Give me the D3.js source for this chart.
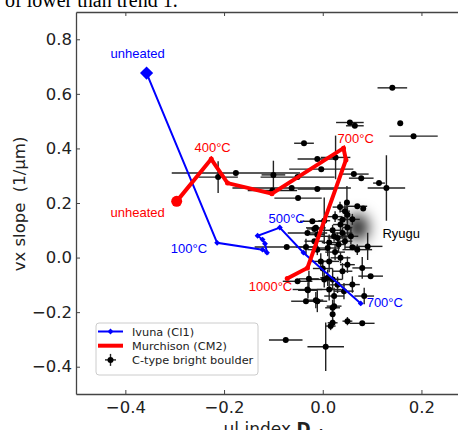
<!DOCTYPE html>
<html>
<head>
<meta charset="utf-8">
<script src="https://cdn.jsdelivr.net/npm/d3@7"></script>
<style>
  body { margin: 0; background: white; }
  svg { display: block; }
  .tick text { font-family: "DejaVu Sans", sans-serif; font-size: 16.5px; fill: #222; }
  .note { font-family: "Liberation Sans", Arial, sans-serif; font-size: 13px; }
  .legend-text { font-family: "DejaVu Sans", sans-serif; font-size: 11.3px; fill: #222; }
</style>
</head>
<body>
<svg id="chart" width="458" height="430"></svg>
<script>
// ---------- data

const IVUNA_X = [-0.357, -0.214, -0.122, -0.113, -0.117, -0.122, -0.132, -0.087, -0.039, 0.077];
const IVUNA_Y = [0.676, 0.054, 0.029, 0.018, 0.051, 0.066, 0.080, 0.110, 0.018, -0.168];

const MURCHISON_X = [-0.296, -0.226, -0.193, -0.103, 0.042, 0.047, -0.031, -0.072];
const MURCHISON_Y = [0.206, 0.361, 0.273, 0.234, 0.401, 0.358, -0.038, -0.077];

// C-type bright boulders: position and half-width of error bars
const BOULDER_X = [
  0.141, 0.157, 0.184, 0.055, 0.065, -0.038, -0.011, 0.026, -0.003, 0.063,
  0.078, 0.114, 0.129, -0.051, -0.063, -0.011, -0.102, -0.050, -0.176, -0.212,
  -0.100, 0.049, 0.070, 0.082, 0.003, 0.040, 0.050, 0.036, 0.050, 0.040,
  0.057, 0.030, -0.014, -0.031, -0.011, 0.023, -0.017, -0.021, -0.017, -0.073,
  -0.034, 0.070, 0.091, 0.010, -0.011, 0.060, 0.013, 0.032, -0.004, 0.013,
  0.036, 0.050, 0.080, 0.097, 0.003, 0.020, 0.010, 0.013, -0.031, -0.028,
  -0.051, 0.043, 0.060, -0.011, -0.034, -0.014, 0.023, 0.084, 0.020, 0.023,
  0.020, 0.050, 0.080, 0.020, 0.016, 0.006, -0.075, -0.030,
  0.035, 0.045, 0.025, 0.060, 0.020, 0.045, 0.025, 0.040, 0.030, 0.000
];
const BOULDER_Y = [
  0.622, 0.492, 0.445, 0.495, 0.483, 0.419, 0.361, 0.367, 0.324, 0.306,
  0.291, 0.273, 0.255, 0.295, 0.255, 0.251, 0.246, 0.218, 0.310, 0.295,
  0.303, 0.202, 0.188, 0.180, 0.135, 0.139, 0.157, 0.121, 0.110, 0.090,
  0.078, 0.072, 0.109, 0.090, 0.084, 0.078, 0.105, 0.133, 0.060, 0.039,
  0.039, 0.029, 0.041, 0.035, 0.029, 0.038, 0.055, 0.048, -0.014, -0.014,
  -0.001, -0.026, -0.038, -0.068, -0.080, -0.080, -0.074, -0.117, -0.117, -0.078,
  -0.087, -0.123, -0.099, -0.160, -0.160, -0.156, -0.141, -0.141, -0.184, -0.178,
  -0.208, -0.233, -0.241, -0.239, -0.251, -0.327, -0.302, -0.120,
  0.185, 0.170, 0.150, 0.140, 0.100, 0.060, 0.020, -0.050, -0.100, -0.040
];
const BOULDER_XERR = [
  0.030, 0, 0.049, 0.028, 0.018, 0.020, 0.040, 0.030, 0.065, 0.030,
  0.025, 0.012, 0.038, 0.075, 0.120, 0.040, 0.050, 0.048, 0.130, 0.040,
  0.024, 0, 0.020, 0, 0.012, 0.010, 0, 0.015, 0.010, 0.020,
  0.015, 0.020, 0.020, 0.040, 0.015, 0.030, 0.015, 0.025, 0.020, 0.065,
  0.020, 0.030, 0.030, 0.025, 0.020, 0.015, 0.015, 0.015, 0.025, 0.020,
  0.020, 0.015, 0.020, 0.025, 0.030, 0.020, 0.015, 0.025, 0.030, 0.020,
  0.030, 0.020, 0.015, 0.020, 0.030, 0.015, 0.020, 0.020, 0.015, 0.015,
  0, 0.010, 0.025, 0.010, 0.010, 0.037, 0.034, 0.020,
  0.015, 0.010, 0.015, 0.015, 0.020, 0.015, 0.020, 0.020, 0.015, 0.020
];
const BOULDER_YERR = [
  0, 0, 0, 0, 0, 0, 0, 0.080, 0, 0,
  0, 0, 0.120, 0, 0, 0, 0, 0, 0, 0.058,
  0.052, 0.060, 0, 0, 0.085, 0, 0.030, 0.020, 0.030, 0.020,
  0.030, 0.020, 0, 0, 0.020, 0.020, 0, 0, 0, 0,
  0.030, 0.020, 0.050, 0.030, 0.020, 0, 0.030, 0.030, 0.030, 0.040,
  0.020, 0.030, 0.040, 0, 0.030, 0.040, 0.030, 0.040, 0, 0.030,
  0, 0.030, 0.030, 0.040, 0, 0.030, 0.030, 0.030, 0.030, 0,
  0.020, 0.015, 0, 0.015, 0.015, 0.089, 0, 0.030,
  0.020, 0.030, 0.020, 0.020, 0.020, 0.030, 0.030, 0.030, 0.030, 0.030
];

const RYUGU = [0.071, 0.110];

const X_TICKS = [-0.4, -0.2, 0.0, 0.2];
const Y_TICKS = [-0.4, -0.2, 0.0, 0.2, 0.4, 0.6, 0.8];

// annotations: [x, y, text, colour]
const NOTES = [
  [-0.43, 0.730, "unheated", "blue"],
  [-0.43, 0.150, "unheated", "red"],
  [-0.260, 0.387, "400°C", "red"],
  [0.030, 0.420, "700°C", "red"],
  [-0.308, 0.018, "100°C", "blue"],
  [-0.110, 0.128, "500°C", "blue"],
  [-0.150, -0.124, "1000°C", "red"],
  [0.089, -0.182, "700°C", "blue"],
  [0.121, 0.073, "Ryugu", "black"]
];

// ----------

const BLUE = "#0000ff";
const RED = "#ff0000";
const AXIS_COLOR = "#444";

const svg = d3.select("#chart");

const x = d3.scaleLinear().domain([-0.5, 0.3]).range([76, 470.8]);
const y = d3.scaleLinear().domain([-0.5, 0.9]).range([394, 12]);

// text from the page above the figure, cut off at the top
svg.append("text")
  .attr("x", 5)
  .attr("y", 7)
  .style("font-family", "'Liberation Serif', serif")
  .style("font-size", "20px")
  .text("of lower than trend 1.");

// Ryugu blurred blob
const defs = svg.append("defs");
defs.append("filter")
  .attr("id", "blur")
  .attr("x", "-200%").attr("y", "-200%")
  .attr("width", "500%").attr("height", "500%")
  .append("feGaussianBlur")
  .attr("stdDeviation", 7.5);

svg.append("ellipse")
  .attr("cx", x(RYUGU[0]))
  .attr("cy", y(RYUGU[1]))
  .attr("rx", 10)
  .attr("ry", 13)
  .attr("fill", "#000")
  .attr("filter", "url(#blur)");

// boulders with error bars
const boulders = d3.range(BOULDER_X.length).map(function (i) {
  return { x: BOULDER_X[i], y: BOULDER_Y[i], xe: BOULDER_XERR[i], ye: BOULDER_YERR[i] };
});

const bars = svg.append("g").attr("stroke", "#222").attr("stroke-width", 1.4);
bars.selectAll("line.xe")
  .data(boulders.filter(function (d) { return d.xe > 0; }))
  .enter()
  .append("line")
  .attr("class", "xe")
  .attr("x1", function (d) { return x(d.x - d.xe); })
  .attr("x2", function (d) { return x(d.x + d.xe); })
  .attr("y1", function (d) { return y(d.y); })
  .attr("y2", function (d) { return y(d.y); });
bars.selectAll("line.ye")
  .data(boulders.filter(function (d) { return d.ye > 0; }))
  .enter()
  .append("line")
  .attr("class", "ye")
  .attr("x1", function (d) { return x(d.x); })
  .attr("x2", function (d) { return x(d.x); })
  .attr("y1", function (d) { return y(d.y - d.ye); })
  .attr("y2", function (d) { return y(d.y + d.ye); });

svg.append("g")
  .selectAll("circle")
  .data(boulders)
  .enter()
  .append("circle")
  .attr("cx", function (d) { return x(d.x); })
  .attr("cy", function (d) { return y(d.y); })
  .attr("r", 3)
  .attr("fill", "#000");

// heating tracks
const line = d3.line()
  .x(function (d) { return x(d[0]); })
  .y(function (d) { return y(d[1]); });

const ivuna = d3.zip(IVUNA_X, IVUNA_Y);
const murchison = d3.zip(MURCHISON_X, MURCHISON_Y);

svg.append("path")
  .datum(ivuna)
  .attr("d", line)
  .attr("fill", "none")
  .attr("stroke", BLUE)
  .attr("stroke-width", 2);

const smallDiamond = d3.symbol().type(d3.symbolDiamond2).size(22);
const bigDiamond = d3.symbol().type(d3.symbolDiamond2).size(110);

svg.append("g")
  .selectAll("path")
  .data(ivuna)
  .enter()
  .append("path")
  .attr("transform", function (d) { return "translate(" + x(d[0]) + "," + y(d[1]) + ")"; })
  .attr("d", function (d, i) { return i === 0 ? bigDiamond() : smallDiamond(); })
  .attr("fill", BLUE);

svg.append("path")
  .datum(murchison)
  .attr("d", line)
  .attr("fill", "none")
  .attr("stroke", RED)
  .attr("stroke-width", 4)
  .attr("stroke-linejoin", "miter");

svg.append("g")
  .selectAll("circle")
  .data(murchison)
  .enter()
  .append("circle")
  .attr("cx", function (d) { return x(d[0]); })
  .attr("cy", function (d) { return y(d[1]); })
  .attr("r", function (d, i) { return i === 0 ? 5.5 : 2.5; })
  .attr("fill", RED);

// annotations
svg.append("g")
  .selectAll("text")
  .data(NOTES)
  .enter()
  .append("text")
  .attr("class", "note")
  .attr("x", function (d) { return x(d[0]); })
  .attr("y", function (d) { return y(d[1]); })
  .attr("fill", function (d) { return d[3]; })
  .text(function (d) { return d[2]; });

// ---------- axes, ticks pointing inwards

function styleAxis(g) {
  g.select(".domain").attr("stroke", AXIS_COLOR).attr("stroke-width", 1.3);
  g.selectAll(".tick line").attr("stroke", AXIS_COLOR).attr("stroke-width", 1);
}

const fmt = d3.format(".1f");

svg.append("g")
  .attr("transform", "translate(0," + y.range()[0] + ")")
  .call(d3.axisBottom(x).tickValues(X_TICKS).tickFormat(fmt).tickSizeInner(-4).tickSizeOuter(0).tickPadding(7))
  .call(styleAxis);

svg.append("g")
  .attr("transform", "translate(0," + y.range()[1] + ")")
  .call(d3.axisTop(x).tickValues(X_TICKS).tickFormat("").tickSizeInner(-4).tickSizeOuter(0))
  .call(styleAxis);

svg.append("g")
  .attr("transform", "translate(" + x.range()[0] + ",0)")
  .call(d3.axisLeft(y).tickValues(Y_TICKS).tickFormat(fmt).tickSizeInner(-4).tickSizeOuter(0).tickPadding(4))
  .call(styleAxis);

svg.append("g")
  .attr("transform", "translate(" + x.range()[1] + ",0)")
  .call(d3.axisRight(y).tickValues(Y_TICKS).tickFormat("").tickSizeInner(-4).tickSizeOuter(0))
  .call(styleAxis);

svg.selectAll(".domain").attr("fill", "none");

// axis labels
const xLabel = svg.append("text")
  .attr("x", (x.range()[0] + x.range()[1]) / 2)
  .attr("y", 435)
  .attr("text-anchor", "middle")
  .style("font-family", "'DejaVu Sans', sans-serif")
  .style("font-size", "17px")
  .attr("fill", "#222");
xLabel.append("tspan").text("ul index ");
xLabel.append("tspan").style("font-weight", "bold").text("D");
xLabel.append("tspan").style("font-weight", "bold").style("font-size", "12px").attr("dy", 4).text("ul");

svg.append("text")
  .attr("transform", "translate(25," + 204 + ") rotate(-90)")
  .attr("text-anchor", "middle")
  .style("font-family", "'DejaVu Sans', sans-serif")
  .style("font-size", "16.5px")
  .attr("fill", "#222")
  .attr("xml:space", "preserve")
  .text("vx slope  (1/μm)");

// ---------- legend

const legend = svg.append("g").attr("transform", "translate(96,323)");

legend.append("rect")
  .attr("width", 162)
  .attr("height", 52)
  .attr("rx", 3)
  .attr("fill", "white")
  .attr("fill-opacity", 0.85)
  .attr("stroke", "#ccc");

const LEGEND_ROWS = [
  ["Ivuna (CI1)", "blue"],
  ["Murchison (CM2)", "red"],
  ["C-type bright boulder", "black"]
];

LEGEND_ROWS.forEach(function (row, i) {
  const cy = 8.5 + i * 14.2;
  if (row[1] === "blue") {
    legend.append("line").attr("x1", 2).attr("x2", 27).attr("y1", cy).attr("y2", cy)
      .attr("stroke", BLUE).attr("stroke-width", 2);
    legend.append("path").attr("transform", "translate(14.5," + cy + ")")
      .attr("d", smallDiamond()).attr("fill", BLUE);
  } else if (row[1] === "red") {
    legend.append("line").attr("x1", 2).attr("x2", 27).attr("y1", cy).attr("y2", cy)
      .attr("stroke", RED).attr("stroke-width", 4);
  } else {
    legend.append("line").attr("x1", 9).attr("x2", 20).attr("y1", cy).attr("y2", cy)
      .attr("stroke", "#222").attr("stroke-width", 1.4);
    legend.append("line").attr("x1", 14.5).attr("x2", 14.5).attr("y1", cy - 6).attr("y2", cy + 6)
      .attr("stroke", "#222").attr("stroke-width", 1.4);
    legend.append("circle").attr("cx", 14.5).attr("cy", cy).attr("r", 3).attr("fill", "#000");
  }
  legend.append("text")
    .attr("class", "legend-text")
    .attr("x", 36)
    .attr("y", cy + 4)
    .text(row[0]);
});
</script>
</body>
</html>
